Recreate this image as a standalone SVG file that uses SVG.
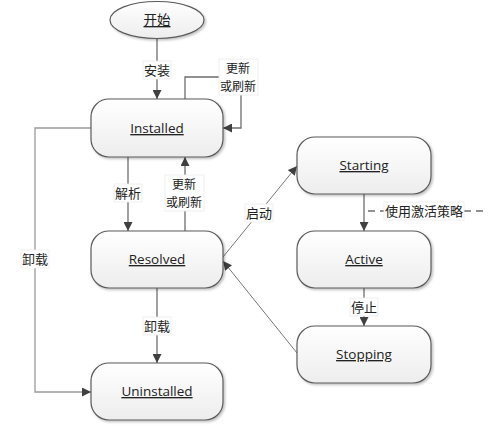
<svg xmlns="http://www.w3.org/2000/svg" width="491" height="426" viewBox="0 0 491 426">
<style>
.node{fill:url(#g);stroke:#5a5a5a;stroke-width:1.2;filter:url(#sh)}
.nt{font-family:"Open Sans","Noto Sans CJK SC",sans-serif;font-size:13.5px;fill:#222;text-anchor:middle;text-decoration:underline}
.ln{fill:none;stroke:#6e6e6e;stroke-width:1.3}
.thin{fill:none;stroke:#777;stroke-width:1}
.lb{font-family:"Noto Sans CJK SC","Open Sans",sans-serif;font-size:13px;fill:#222;text-anchor:middle}
.lb2{font-size:12px}
.bg{fill:#fff;stroke:#ececec;stroke-width:0.8}
</style>
<defs>
<linearGradient id="g" x1="0" y1="0" x2="0" y2="1"><stop offset="0" stop-color="#ffffff"/><stop offset="1" stop-color="#ededed"/></linearGradient>
<filter id="sh" x="-10%" y="-10%" width="125%" height="130%"><feDropShadow dx="1.5" dy="1.5" stdDeviation="1.2" flood-color="#000" flood-opacity="0.25"/></filter>
<marker id="a" viewBox="0 0 10 10" refX="10" refY="5" markerWidth="9" markerHeight="9" markerUnits="userSpaceOnUse" orient="auto"><path d="M0,0 L10,5 L0,10 Z" fill="#404040"/></marker>
</defs>
<g id="connectors">
<path class="ln" d="M157,39 V99" marker-end="url(#a)"/>
<path class="ln" d="M185,99 V77 H241 V128 H223" marker-end="url(#a)"/>
<path class="ln" d="M128,157 V231" marker-end="url(#a)"/>
<path class="ln" d="M185,231 V157" marker-end="url(#a)"/>
<path class="ln" d="M91,128 H35 V392 H91" marker-end="url(#a)" style="stroke:#9a9a9a"/>
<path class="ln" d="M157,288 V363" marker-end="url(#a)"/>
<path class="thin" d="M223,257 L297,166" marker-end="url(#a)"/>
<path class="thin" d="M297,353 L223,261" marker-end="url(#a)"/>
<path class="ln" d="M364,194 V231" marker-end="url(#a)"/>
<path class="ln" d="M364,288 V326" marker-end="url(#a)"/>
<path class="ln" d="M368,211 H487" stroke-dasharray="7 5"/>
<rect class="bg" x="143" y="61" width="28" height="18"/>
<text class="lb" x="157" y="75">安装</text>
<rect class="bg" x="219" y="59" width="39" height="36"/>
<text class="lb lb2" x="238" y="73">更新</text>
<text class="lb lb2" x="238" y="90.5">或刷新</text>
<rect class="bg" x="165" y="175" width="39" height="36"/>
<text class="lb lb2" x="184" y="189">更新</text>
<text class="lb lb2" x="184" y="206.5">或刷新</text>
<rect class="bg" x="114" y="184" width="28" height="18"/>
<text class="lb" x="128" y="198">解析</text>
<rect class="bg" x="21" y="250" width="28" height="18"/>
<text class="lb" x="35" y="264">卸载</text>
<rect class="bg" x="143" y="317" width="28" height="18"/>
<text class="lb" x="157" y="331">卸载</text>
<rect class="bg" x="245" y="204" width="28" height="18"/>
<text class="lb" x="259" y="218">启动</text>
<rect class="bg" x="384" y="202" width="80" height="18"/>
<text class="lb" x="424" y="216">使用激活策略</text>
<rect class="bg" x="350" y="298" width="28" height="18"/>
<text class="lb" x="364" y="312">停止</text>
</g>
<g id="start"><ellipse class="node" cx="157" cy="20" rx="47" ry="18.5"/><text class="nt" x="157" y="25">开始</text></g>
<g id="installed"><rect class="node" x="91" y="99" width="132" height="58" rx="18"/><text class="nt" x="157" y="133">Installed</text></g>
<g id="resolved"><rect class="node" x="91" y="231" width="132" height="57" rx="18"/><text class="nt" x="157" y="264">Resolved</text></g>
<g id="uninstalled"><rect class="node" x="91" y="363" width="132" height="57" rx="18"/><text class="nt" x="157" y="396">Uninstalled</text></g>
<g id="starting"><rect class="node" x="297" y="137" width="134" height="57" rx="18"/><text class="nt" x="364" y="170">Starting</text></g>
<g id="active"><rect class="node" x="297" y="231" width="134" height="57" rx="18"/><text class="nt" x="364" y="264">Active</text></g>
<g id="stopping"><rect class="node" x="297" y="326" width="134" height="57" rx="18"/><text class="nt" x="364" y="359">Stopping</text></g>
</svg>
